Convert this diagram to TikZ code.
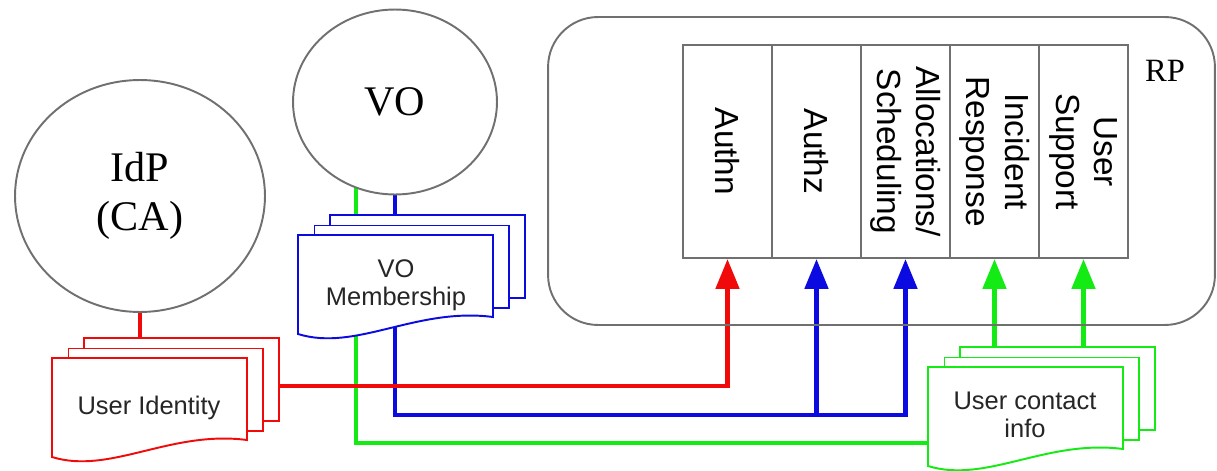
\documentclass[tikz,border=0pt]{standalone}
\usepackage{fontspec}
\setmainfont{Liberation Sans}
\newfontfamily\seriffam{Liberation Serif}
\usetikzlibrary{shapes.geometric,arrows.meta,backgrounds}

\definecolor{idred}{RGB}{240,10,10}
\definecolor{voblue}{RGB}{10,10,225}
\definecolor{cigreen}{RGB}{20,235,20}
\definecolor{rpgray}{RGB}{112,112,112}

\begin{document}
\begin{tikzpicture}[x=0.02cm,y=-0.02cm,
  party/.style={ellipse,draw=rpgray,line width=1.1pt,fill=white,inner sep=0pt,
    align=center,font=\seriffam\fontsize{24}{28}\selectfont},
  service/.style={draw=rpgray,line width=1.1pt,fill=white,rotate=-90,inner sep=0pt,
    minimum width=4.26cm,minimum height=1.78cm,align=center,
    font=\fontsize{19}{22}\selectfont},
  sheet/.style={draw,fill=white,line width=1.1pt,inner sep=0pt,anchor=north west,
    minimum width=3.9cm,minimum height=1.66cm},
  sheetfront/.style={line width=1.1pt,fill=white},
  doctext/.style={align=center,text=black!85,font=\fontsize{14.5}{16}\selectfont},
  feed/.style={line width=2.8pt},
  arr/.style={feed,-{Triangle[width=0.46cm,length=0.6cm]}}]
  \useasboundingbox (0,0) rectangle (1217,470);

  % identity provider and virtual organisation
  \node[party,minimum width=5cm,minimum height=4.64cm] (idp) at (140,196) {IdP\\(CA)};
  \node[party,minimum width=4.08cm,minimum height=3.7cm] (vo) at (395,102) {VO};

  % resource provider
  \node[draw=rpgray,line width=1.1pt,rounded corners=1cm,inner sep=0pt,
    minimum width=13.34cm,minimum height=6.16cm] (rp) at (881.5,171) {};
  \node[font=\seriffam\fontsize{18.5}{21}\selectfont] (rplabel) at (1165,71) {RP};
  \node[service] (authn) at (727.5,151.5) {Authn};
  \node[service] (authz) at (816.5,151.5) {Authz};
  \node[service] (alloc) at (905.5,151.5) {Allocations/\\Scheduling};
  \node[service] (incident) at (994.5,151.5) {Incident\\Response};
  \node[service] (support) at (1083.5,151.5) {User\\Support};

  % user identity
  \node[sheet,draw=idred] (uid2) at (83,337) {};
  \node[sheet,draw=idred] (uid1) at (67.5,347.5) {};
  \draw[idred,sheetfront,shift={(52,358)}] (0,0) -- (195,0) -- (195,82)
    .. controls (118,72) and (58,117) .. (0,99) -- cycle;
  \node[doctext] (uid) at (149,408) {User Identity};

  % vo membership
  \node[sheet,draw=voblue] (vom2) at (329,214) {};
  \node[sheet,draw=voblue] (vom1) at (313.5,224.5) {};
  \draw[voblue,sheetfront,shift={(298,235)}] (0,0) -- (195,0) -- (195,82)
    .. controls (118,72) and (58,117) .. (0,99) -- cycle;
  \node[doctext] (vom) at (396,285) {VO\\Membership};

  % user contact info
  \node[sheet,draw=cigreen] (ci2) at (959,346) {};
  \node[sheet,draw=cigreen] (ci1) at (943.5,356.5) {};
  \draw[cigreen,sheetfront,shift={(928,367)}] (0,0) -- (195,0) -- (195,82)
    .. controls (118,72) and (58,117) .. (0,99) -- cycle;
  \node[doctext] (ci) at (1025,415) {User contact\\info};

  \begin{pgfonlayer}{background}
    \coordinate (gbend) at (356,443);
    \coordinate (bbend) at (395,415);
    \coordinate (rbend) at (140,386);
    \draw[feed,cigreen] (vo.center -| gbend) -- (gbend) -- (gbend -| ci.center);
    \draw[arr,cigreen] (incident.east |- ci2.center) -- (incident.east);
    \draw[arr,cigreen] (support.east |- ci2.center) -- (support.east);
    \draw[arr,voblue] (vo.center) |- (bbend -| alloc.east) -- (alloc.east);
    \draw[arr,voblue] (bbend -| authz.east) -- (authz.east);
    \draw[arr,idred] (idp.center) |- (rbend -| authn.east) -- (authn.east);
  \end{pgfonlayer}
\end{tikzpicture}
\end{document}
